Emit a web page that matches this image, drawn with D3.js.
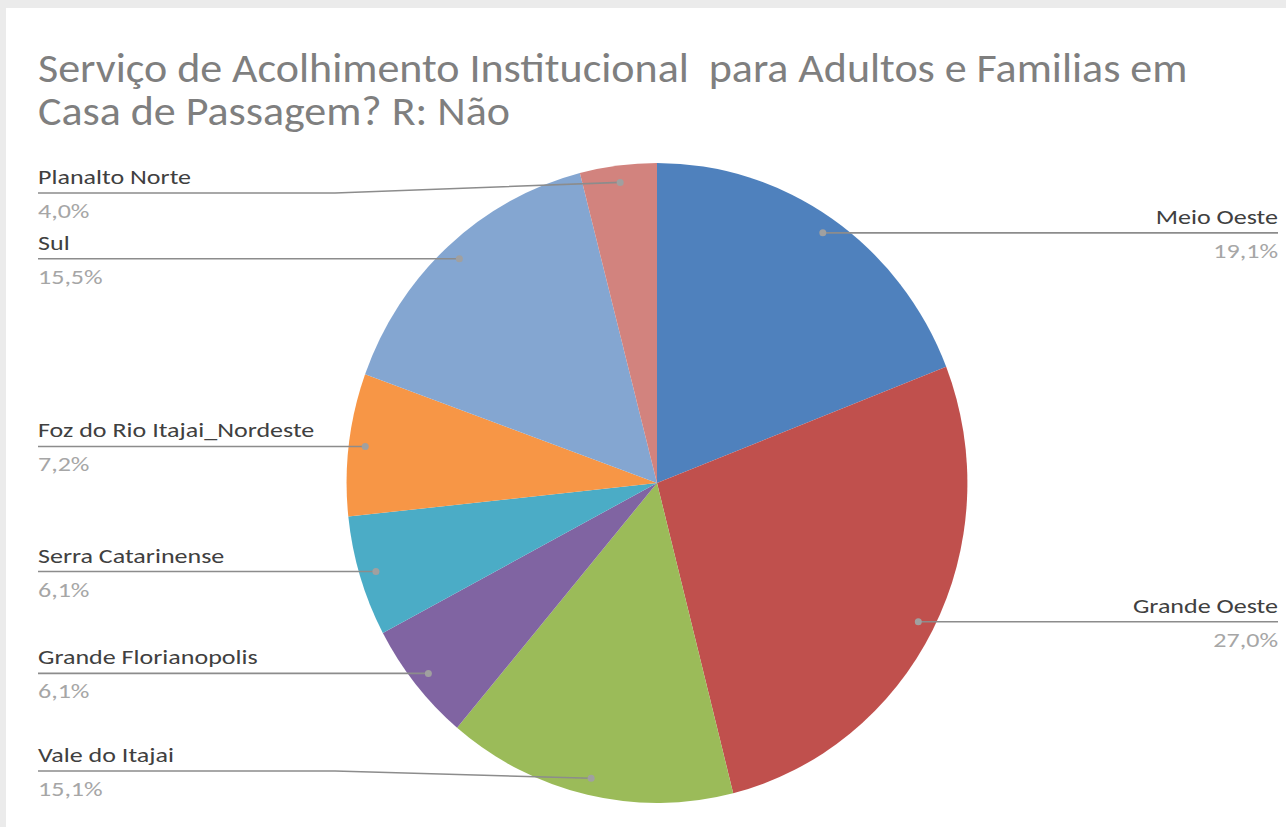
<!DOCTYPE html>
<html>
<head>
<meta charset="utf-8">
<script src="https://cdn.jsdelivr.net/npm/d3@7"></script>
<style>
  html, body { margin: 0; padding: 0; background: #ebebeb; }
  svg { display: block; }
  text { font-family: Carlito, Calibri, Lato, "Open Sans", sans-serif; white-space: pre; }
</style>
</head>
<body>
<div id="chart"></div>
<script>
// Data
const regions = ["Meio Oeste", "Grande Oeste", "Vale do Itajai", "Grande Florianopolis",
    "Serra Catarinense", "Foz do Rio Itajai_Nordeste", "Sul", "Planalto Norte"];
const shares = [19.1, 27.0, 15.1, 6.1, 6.1, 7.2, 15.5, 4.0];
const valueLabels = ["19,1%", "27,0%", "15,1%", "6,1%", "6,1%", "7,2%", "15,5%", "4,0%"];
const colors = ["#4f81bd", "#c0504d", "#9bbb59", "#8064a2", "#4bacc6", "#f79646", "#84a6d1", "#d2837e"];
const titleLines = ["Serviço de Acolhimento Institucional  para Adultos e Familias em",
    "Casa de Passagem? R: Não"];

// Dimensions
const width = 1286,
    height = 827;
const cx = 657, cy = 483;
const radius = 320,
    squash = 0.97;       // the pie is a bit narrower than it is tall
const dotRadius = 303;
const leftX = 38, rightX = 1278,
    leftBend = 335, rightBend = 980,
    topLimit = 193, bottomLimit = 771;
const titleStretch = 1.1,
    labelStretch = 1.24; // the text in the picture is drawn wide

const svg = d3.select("#chart")
    .append("svg")
    .attr("width", width)
    .attr("height", height);

// white panel
svg.append("rect")
    .attr("x", 6)
    .attr("y", 8)
    .attr("width", width - 6)
    .attr("height", height - 8)
    .attr("fill", "#ffffff");

// Title
svg.append("g")
    .selectAll("text")
    .data(titleLines)
    .enter()
    .append("text")
    .attr("transform", (d, i) => "translate(38," + (82 + i * 43) + ") scale(" + titleStretch + ",1)")
    .attr("fill", "#7f7f7f")
    .style("font-size", "40px")
    .text(d => d);

const pie = d3.pie()
    .sort(null)
    .value(d => d.value);

const data_ready = pie(regions.map((r, i) => ({
    name: r, value: shares[i], label: valueLabels[i], color: colors[i]
})));

const arcGenerator = d3.arc()
    .innerRadius(0)
    .outerRadius(radius);

const dotArc = d3.arc()
    .innerRadius(dotRadius)
    .outerRadius(dotRadius);

const pieG = svg.append("g")
    .attr("transform", "translate(" + cx + "," + cy + ") scale(" + squash + ",1)");

pieG.selectAll("slices")
    .data(data_ready)
    .enter()
    .append("path")
    .attr("d", arcGenerator)
    .attr("fill", d => d.data.color);

// Label anchor points (in page coordinates)
data_ready.forEach(d => {
    const c = dotArc.centroid(d);
    d.dotX = cx + c[0] * squash;
    d.dotY = cy + c[1];
    d.right = c[0] > 0;
    d.lineY = Math.max(topLimit, Math.min(bottomLimit, d.dotY));
});

const labels = svg.append("g");

labels.selectAll("path")
    .data(data_ready)
    .enter()
    .append("path")
    .attr("d", d => {
        const x0 = d.right ? rightX : leftX;
        const xb = d.right ? rightBend : leftBend;
        return "M" + x0 + "," + d.lineY + "L" + xb + "," + d.lineY + "L" + d.dotX + "," + d.dotY;
    })
    .attr("fill", "none")
    .attr("stroke", "#8c8c8c")
    .attr("stroke-width", 1.6);

labels.selectAll("circle")
    .data(data_ready)
    .enter()
    .append("circle")
    .attr("cx", d => d.dotX)
    .attr("cy", d => d.dotY)
    .attr("r", 3.5)
    .attr("fill", "#a0a0a0");

labels.selectAll("text.name")
    .data(data_ready)
    .enter()
    .append("text")
    .attr("class", "name")
    .attr("transform", d => "translate(" + (d.right ? rightX : leftX) + "," + (d.lineY - 9) + ") scale(" + labelStretch + ",1)")
    .attr("text-anchor", d => d.right ? "end" : "start")
    .attr("fill", "#404040")
    .style("font-size", "21px")
    .text(d => d.data.name);

labels.selectAll("text.value")
    .data(data_ready)
    .enter()
    .append("text")
    .attr("class", "value")
    .attr("transform", d => "translate(" + (d.right ? rightX : leftX) + "," + (d.lineY + 25) + ") scale(" + labelStretch + ",1)")
    .attr("text-anchor", d => d.right ? "end" : "start")
    .attr("fill", "#a6a6a6")
    .style("font-size", "21px")
    .text(d => d.data.label);
</script>
</body>
</html>
